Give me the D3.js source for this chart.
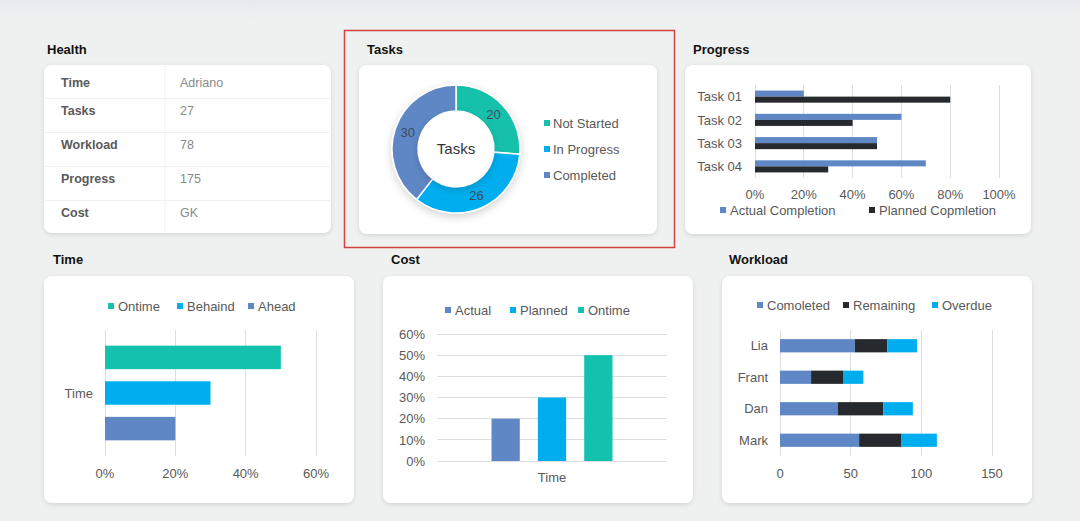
<!DOCTYPE html>
<html>
<head>
<meta charset="utf-8">
<script src="https://cdn.jsdelivr.net/npm/d3@7"></script>
<style>
  html, body { margin: 0; padding: 0; background: #eff1f0; }
  svg { display: block; font-family: "Liberation Sans", Arial, sans-serif; }
  .title { font-size: 13px; font-weight: bold; fill: #111; }
  .lbl { font-size: 13px; fill: #595959; }
  .grid { stroke: #dedede; stroke-width: 1; shape-rendering: crispEdges; }
</style>
</head>
<body>
<svg id="dash" width="1080" height="521"></svg>
<script>
// ---- data ----
const healthLabels = ['Time', 'Tasks', 'Workload', 'Progress', 'Cost'];
const healthValues = ['Adriano', '27', '78', '175', 'GK'];

const taskStatus = ['Not Started', 'In Progress', 'Completed'];
const taskCounts = [20, 26, 30];

const progressTasks = ['Task 01', 'Task 02', 'Task 03', 'Task 04'];
const actualCompletion = [0.2, 0.6, 0.5, 0.7];
const plannedCompletion = [0.8, 0.4, 0.5, 0.3];
const progressTicks = [0, 0.2, 0.4, 0.6, 0.8, 1];

const timeSeries = ['Ontime', 'Behaind', 'Ahead'];
const timeValues = [0.5, 0.3, 0.2];
const timeTicks = [0, 0.2, 0.4, 0.6];

const costSeries = ['Actual', 'Planned', 'Ontime'];
const costValues = [0.2, 0.3, 0.5];
const costTicks = [0, 0.1, 0.2, 0.3, 0.4, 0.5, 0.6];

const workloadPeople = ['Lia', 'Frant', 'Dan', 'Mark'];
const workloadSeries = ['Comoleted', 'Remaining', 'Overdue'];
const workCompleted = [53, 22, 41, 56];
const workRemaining = [23, 23, 32, 30];
const workOverdue = [21, 14, 21, 25];
const workTicks = [0, 50, 100, 150];

const TEAL = '#14c1ac', SKY = '#00aeef', SLATE = '#5f87c6', DARK = '#262a2e';
const DY = '0.36em'; // vertical centring of text on its y

const svg = d3.select('#dash');
const pct = d3.format('.0%');

// ---- defs ----
const defs = svg.append('defs');
const bg = defs.append('linearGradient').attr('id', 'bg').attr('x1', 0).attr('x2', 0).attr('y1', 0).attr('y2', 1);
bg.append('stop').attr('offset', '0%').attr('stop-color', '#e7e9f1');
bg.append('stop').attr('offset', '4%').attr('stop-color', '#eff1f0');
bg.append('stop').attr('offset', '100%').attr('stop-color', '#eff1f0');

defs.append('filter').attr('id', 'cardShadow').attr('x', '-10%').attr('y', '-10%').attr('width', '120%').attr('height', '130%')
  .append('feDropShadow').attr('dx', 0).attr('dy', 1.5).attr('stdDeviation', 2)
  .attr('flood-color', '#000').attr('flood-opacity', 0.12);
defs.append('filter').attr('id', 'donutShadow').attr('x', '-30%').attr('y', '-30%').attr('width', '160%').attr('height', '170%')
  .append('feDropShadow').attr('dx', 0).attr('dy', 3).attr('stdDeviation', 4)
  .attr('flood-color', '#000').attr('flood-opacity', 0.18);

svg.append('rect').attr('width', 1080).attr('height', 521).attr('fill', 'url(#bg)');

function card(title, tx, ty, x, y, w, h) {
  svg.append('text').attr('class', 'title').attr('x', tx).attr('y', ty)
    .attr('dy', DY).text(title);
  svg.append('rect').attr('x', x).attr('y', y).attr('width', w).attr('height', h)
    .attr('rx', 8).attr('fill', '#fff').attr('filter', 'url(#cardShadow)');
}

function legend(names, colors, xs, y) {
  const g = svg.append('g');
  names.forEach((n, i) => {
    g.append('rect').attr('x', xs[i]).attr('y', y - 3).attr('width', 6).attr('height', 6).attr('fill', colors[i]);
    g.append('text').attr('class', 'lbl').attr('x', xs[i] + 10).attr('y', y)
      .attr('dy', DY).text(n);
  });
}

// ---- Health ----
card('Health', 47, 49, 44, 65, 287, 168);
const hy = d3.scaleBand().domain(healthLabels).range([64, 234]);
const hg = svg.append('g');
hg.append('line').attr('x1', 165).attr('x2', 165).attr('y1', 66).attr('y2', 232).attr('stroke', '#f0f0f0');
healthLabels.forEach((l, i) => {
  if (i > 0) {
    hg.append('line').attr('x1', 45).attr('x2', 330).attr('y1', hy(l)).attr('y2', hy(l))
      .attr('stroke', '#f0f0f0').attr('shape-rendering', 'crispEdges');
  }
  const ty = hy(l) + (i === 0 ? 18 : 12);
  hg.append('text').attr('x', 61).attr('y', ty)
    .attr('dy', DY).attr('font-size', 12.5).attr('font-weight', 'bold')
    .attr('fill', '#5a5a5a').text(l);
  hg.append('text').attr('x', 180).attr('y', ty)
    .attr('dy', DY).attr('font-size', 12.5)
    .attr('fill', '#8a8a8a').text(healthValues[i]);
});

// ---- Tasks (donut) ----
card('Tasks', 367, 49, 359, 65, 298, 169);
const cx = 456, cy = 149;
const pie = d3.pie().sort(null).value(d => d);
const arcs = pie(taskCounts);
const arc = d3.arc().innerRadius(38).outerRadius(64);
const taskColor = d3.scaleOrdinal().domain(taskStatus).range([TEAL, SKY, SLATE]);
const dg = svg.append('g').attr('transform', `translate(${cx},${cy})`);
dg.append('g').attr('filter', 'url(#donutShadow)').selectAll('path').data(arcs).join('path')
  .attr('d', arc).attr('fill', (d, i) => taskColor(taskStatus[i]))
  .attr('stroke', '#fff').attr('stroke-width', 1.5);
dg.append('circle').attr('r', 38).attr('fill', '#fff').attr('filter', 'url(#donutShadow)');
dg.selectAll('text.val').data(arcs).join('text').attr('class', 'val')
  .attr('transform', d => `translate(${arc.centroid(d)})`)
  .attr('text-anchor', 'middle').attr('dy', DY)
  .attr('font-size', 13).attr('fill', '#3d4a5c').text(d => d.data);
dg.append('text').attr('text-anchor', 'middle').attr('dy', DY)
  .attr('font-size', 15).attr('fill', '#333').text('Tasks');
const tl = d3.scaleBand().domain(taskStatus).range([110, 188]);
taskStatus.forEach(s => {
  const y = tl(s) + tl.bandwidth() / 2;
  svg.append('rect').attr('x', 544).attr('y', y - 3).attr('width', 6).attr('height', 6).attr('fill', taskColor(s));
  svg.append('text').attr('class', 'lbl').attr('x', 553).attr('y', y).attr('font-size', 13.5)
    .attr('dy', DY).text(s);
});
svg.append('rect').attr('x', 344.5).attr('y', 30.5).attr('width', 330).attr('height', 217)
  .attr('fill', 'none').attr('stroke', '#d0443f').attr('stroke-width', 1.5);

// ---- Progress ----
card('Progress', 693, 49, 685, 65, 346, 169);
const px = d3.scaleLinear().domain([0, 1]).range([755, 999]);
const py = d3.scaleBand().domain(progressTasks).range([85, 178]).paddingInner(0.48).paddingOuter(0.24);
const pSub = d3.scaleBand().domain(['actual', 'planned']).range([0, py.bandwidth()]);
const pg = svg.append('g');
pg.selectAll('line').data(progressTicks).join('line').attr('class', 'grid')
  .attr('x1', d => px(d)).attr('x2', d => px(d)).attr('y1', 85).attr('y2', 178);
pg.selectAll('rect.a').data(actualCompletion).join('rect').attr('class', 'a')
  .attr('x', px(0)).attr('y', (d, i) => py(progressTasks[i]) + pSub('actual'))
  .attr('width', d => px(d) - px(0)).attr('height', pSub.bandwidth()).attr('fill', SLATE);
pg.selectAll('rect.p').data(plannedCompletion).join('rect').attr('class', 'p')
  .attr('x', px(0)).attr('y', (d, i) => py(progressTasks[i]) + pSub('planned'))
  .attr('width', d => px(d) - px(0)).attr('height', pSub.bandwidth()).attr('fill', DARK);
pg.selectAll('text.c').data(progressTasks).join('text').attr('class', 'lbl c')
  .attr('x', 742).attr('y', d => py(d) + py.bandwidth() / 2).attr('text-anchor', 'end')
  .attr('dy', DY).text(d => d);
pg.selectAll('text.t').data(progressTicks).join('text').attr('class', 'lbl t')
  .attr('x', d => px(d)).attr('y', 194).attr('text-anchor', 'middle')
  .attr('dy', DY).text(d => pct(d));
legend(['Actual Completion', 'Planned Copmletion'], [SLATE, DARK], [720, 869], 210);

// ---- Time ----
card('Time', 53, 259, 44, 276, 310, 227);
const tx = d3.scaleLinear().domain([0, 0.6]).range([105, 316]);
const ty0 = d3.scaleBand().domain(['Time']).range([330, 456]).paddingOuter(0.09);
const ty1 = d3.scaleBand().domain(timeSeries).range([0, ty0.bandwidth()]).paddingInner(0.34).paddingOuter(0.17);
const timeColor = d3.scaleOrdinal().domain(timeSeries).range([TEAL, SKY, SLATE]);
const tg = svg.append('g');
tg.selectAll('line').data(timeTicks).join('line').attr('class', 'grid')
  .attr('x1', d => tx(d)).attr('x2', d => tx(d)).attr('y1', 330).attr('y2', 456);
tg.selectAll('rect').data(timeValues).join('rect')
  .attr('x', tx(0)).attr('y', (d, i) => ty0('Time') + ty1(timeSeries[i]))
  .attr('width', d => tx(d) - tx(0)).attr('height', ty1.bandwidth())
  .attr('fill', (d, i) => timeColor(timeSeries[i]));
tg.append('text').attr('class', 'lbl').attr('x', 93).attr('y', ty0('Time') + ty0.bandwidth() / 2)
  .attr('text-anchor', 'end').attr('dy', DY).text('Time');
tg.selectAll('text.t').data(timeTicks).join('text').attr('class', 'lbl t')
  .attr('x', d => tx(d)).attr('y', 473).attr('text-anchor', 'middle')
  .attr('dy', DY).text(d => pct(d));
legend(timeSeries, timeSeries.map(timeColor), [108, 177, 248], 306);

// ---- Cost ----
card('Cost', 391, 259, 383, 276, 310, 227);
const cyS = d3.scaleLinear().domain([0, 0.6]).range([461, 334]);
const cx0 = d3.scaleBand().domain(['Time']).range([437, 667]).paddingOuter(0.327);
const cx1 = d3.scaleBand().domain(costSeries).range([0, cx0.bandwidth()]).paddingInner(0.39).paddingOuter(0.195);
const costColor = d3.scaleOrdinal().domain(costSeries).range([SLATE, SKY, TEAL]);
const cg = svg.append('g');
cg.selectAll('line').data(costTicks).join('line').attr('class', 'grid')
  .attr('x1', 437).attr('x2', 667).attr('y1', d => cyS(d)).attr('y2', d => cyS(d));
cg.selectAll('rect').data(costValues).join('rect')
  .attr('x', (d, i) => cx0('Time') + cx1(costSeries[i])).attr('y', d => cyS(d))
  .attr('width', cx1.bandwidth()).attr('height', d => cyS(0) - cyS(d))
  .attr('fill', (d, i) => costColor(costSeries[i]));
cg.selectAll('text.t').data(costTicks).join('text').attr('class', 'lbl t')
  .attr('x', 425).attr('y', d => cyS(d)).attr('text-anchor', 'end')
  .attr('dy', DY).text(d => pct(d));
cg.append('text').attr('class', 'lbl').attr('x', cx0('Time') + cx0.bandwidth() / 2).attr('y', 477)
  .attr('text-anchor', 'middle').attr('dy', DY).text('Time');
legend(costSeries, costSeries.map(costColor), [445, 510, 578], 310);

// ---- Workload ----
card('Workload', 729, 259, 722, 276, 310, 227);
const wx = d3.scaleLinear().domain([0, 150]).range([780, 992]);
const wy = d3.scaleBand().domain(workloadPeople).range([330, 456]).paddingInner(0.58).paddingOuter(0.29);
const workColor = d3.scaleOrdinal().domain(workloadSeries).range([SLATE, DARK, SKY]);
const workRows = workloadPeople.map((p, i) => ({
  name: p, Comoleted: workCompleted[i], Remaining: workRemaining[i], Overdue: workOverdue[i]
}));
const stacked = d3.stack().keys(workloadSeries)(workRows);
const wg = svg.append('g');
wg.selectAll('line').data(workTicks).join('line').attr('class', 'grid')
  .attr('x1', d => wx(d)).attr('x2', d => wx(d)).attr('y1', 330).attr('y2', 456);
wg.selectAll('g.s').data(stacked).join('g').attr('class', 's').attr('fill', d => workColor(d.key))
  .selectAll('rect').data(d => d).join('rect')
  .attr('x', d => wx(d[0])).attr('y', d => wy(d.data.name))
  .attr('width', d => wx(d[1]) - wx(d[0])).attr('height', wy.bandwidth());
wg.selectAll('text.c').data(workloadPeople).join('text').attr('class', 'lbl c')
  .attr('x', 768).attr('y', d => wy(d) + wy.bandwidth() / 2).attr('text-anchor', 'end')
  .attr('dy', DY).text(d => d);
wg.selectAll('text.t').data(workTicks).join('text').attr('class', 'lbl t')
  .attr('x', d => wx(d)).attr('y', 473).attr('text-anchor', 'middle')
  .attr('dy', DY).text(d => d);
legend(workloadSeries, workloadSeries.map(workColor), [757, 843, 932], 305);
</script>
</body>
</html>
